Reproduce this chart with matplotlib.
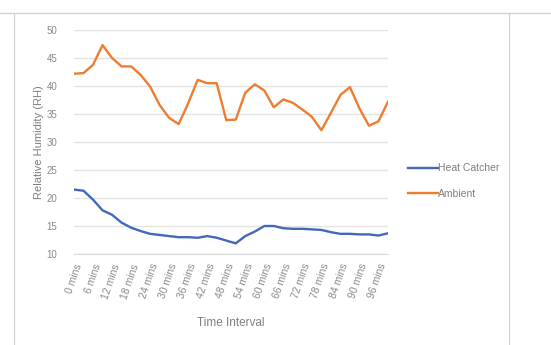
import matplotlib
matplotlib.use("Agg")
import matplotlib.pyplot as plt
from matplotlib.lines import Line2D
import numpy as np

plt.rcParams['font.family'] = ['Liberation Sans', 'DejaVu Sans']

minutes = list(range(0, 100, 3))
tick_labels = [f"{m} mins" for m in range(0, 97, 6)]
heat_catcher = [21.5, 21.3, 19.7, 17.8, 17.0, 15.6, 14.7, 14.1, 13.6, 13.4, 13.2, 13.0,
                13.0, 12.9, 13.2, 12.9, 12.4, 11.9, 13.2, 14.0, 15.0, 15.0, 14.6, 14.5,
                14.5, 14.4, 14.3, 13.9, 13.6, 13.6, 13.5, 13.5, 13.3, 13.7]
ambient = [42.2, 42.3, 43.8, 47.3, 45.0, 43.5, 43.5, 42.0, 39.9, 36.6, 34.3, 33.2,
           36.9, 41.1, 40.5, 40.5, 33.9, 34.0, 38.8, 40.3, 39.2, 36.2, 37.6, 37.0,
           35.8, 34.5, 32.1, 35.2, 38.4, 39.8, 36.0, 32.9, 33.7, 37.2]

W, H = 551, 345
fig = plt.figure(figsize=(W / 100, H / 100), dpi=100)
fig.patch.set_facecolor('white')

# outer frame lines
edge = '#D0D0D0'
fig.add_artist(Line2D([0, 1], [1 - 13 / H, 1 - 13 / H], color=edge, lw=1.0, transform=fig.transFigure))
fig.add_artist(Line2D([14 / W, 14 / W], [0, 1 - 13 / H], color=edge, lw=0.8, transform=fig.transFigure))
fig.add_artist(Line2D([509 / W, 509 / W], [0, 1 - 13 / H], color=edge, lw=0.8, transform=fig.transFigure))

ax_w = 388 - 74
ax = fig.add_axes([74 / W, 1 - 254 / H, ax_w / W, (254 - 30) / H])
x = np.arange(len(minutes))
ax.plot(x, heat_catcher, color='#4268B8', lw=1.7, label='Heat Catcher', solid_joinstyle='round')
ax.plot(x, ambient, color='#ED7D31', lw=1.7, label='Ambient', solid_joinstyle='round')

ax.set_xlim(0, len(minutes) - 1)
ax.set_ylim(10, 50)
ax.set_yticks(range(10, 51, 5))
ax.set_xticks(x[::2])
ax.set_xticklabels(tick_labels, rotation=71, ha='right', va='top', rotation_mode='anchor',
                   fontsize=7.5)

for s in ['top', 'right', 'left']:
    ax.spines[s].set_visible(False)
ax.spines['bottom'].set_color('#D9D9D9')
ax.grid(axis='y', color='#E3E3E3', lw=1.0)
ax.set_axisbelow(True)
ax.tick_params(axis='both', length=0, colors='#8A8A8A')
ax.tick_params(axis='y', pad=12, labelsize=7)
ax.tick_params(axis='x', pad=6)

ax.set_ylabel('Relative Humidity (RH)', color='#7F7F7F', fontsize=8)
ax.yaxis.set_label_coords((44 - 74) / ax_w, 0.5)
ax.set_xlabel('Time Interval', color='#7F7F7F', fontsize=8.5, labelpad=12)

leg = ax.legend(loc='center left', bbox_to_anchor=(1.033, 0.325), frameon=False,
                fontsize=7.5, handlelength=2.9, handletextpad=0.0, labelspacing=1.5)
for t in leg.get_texts():
    t.set_color('#7F7F7F')

fig.savefig('out.png', dpi=100)
